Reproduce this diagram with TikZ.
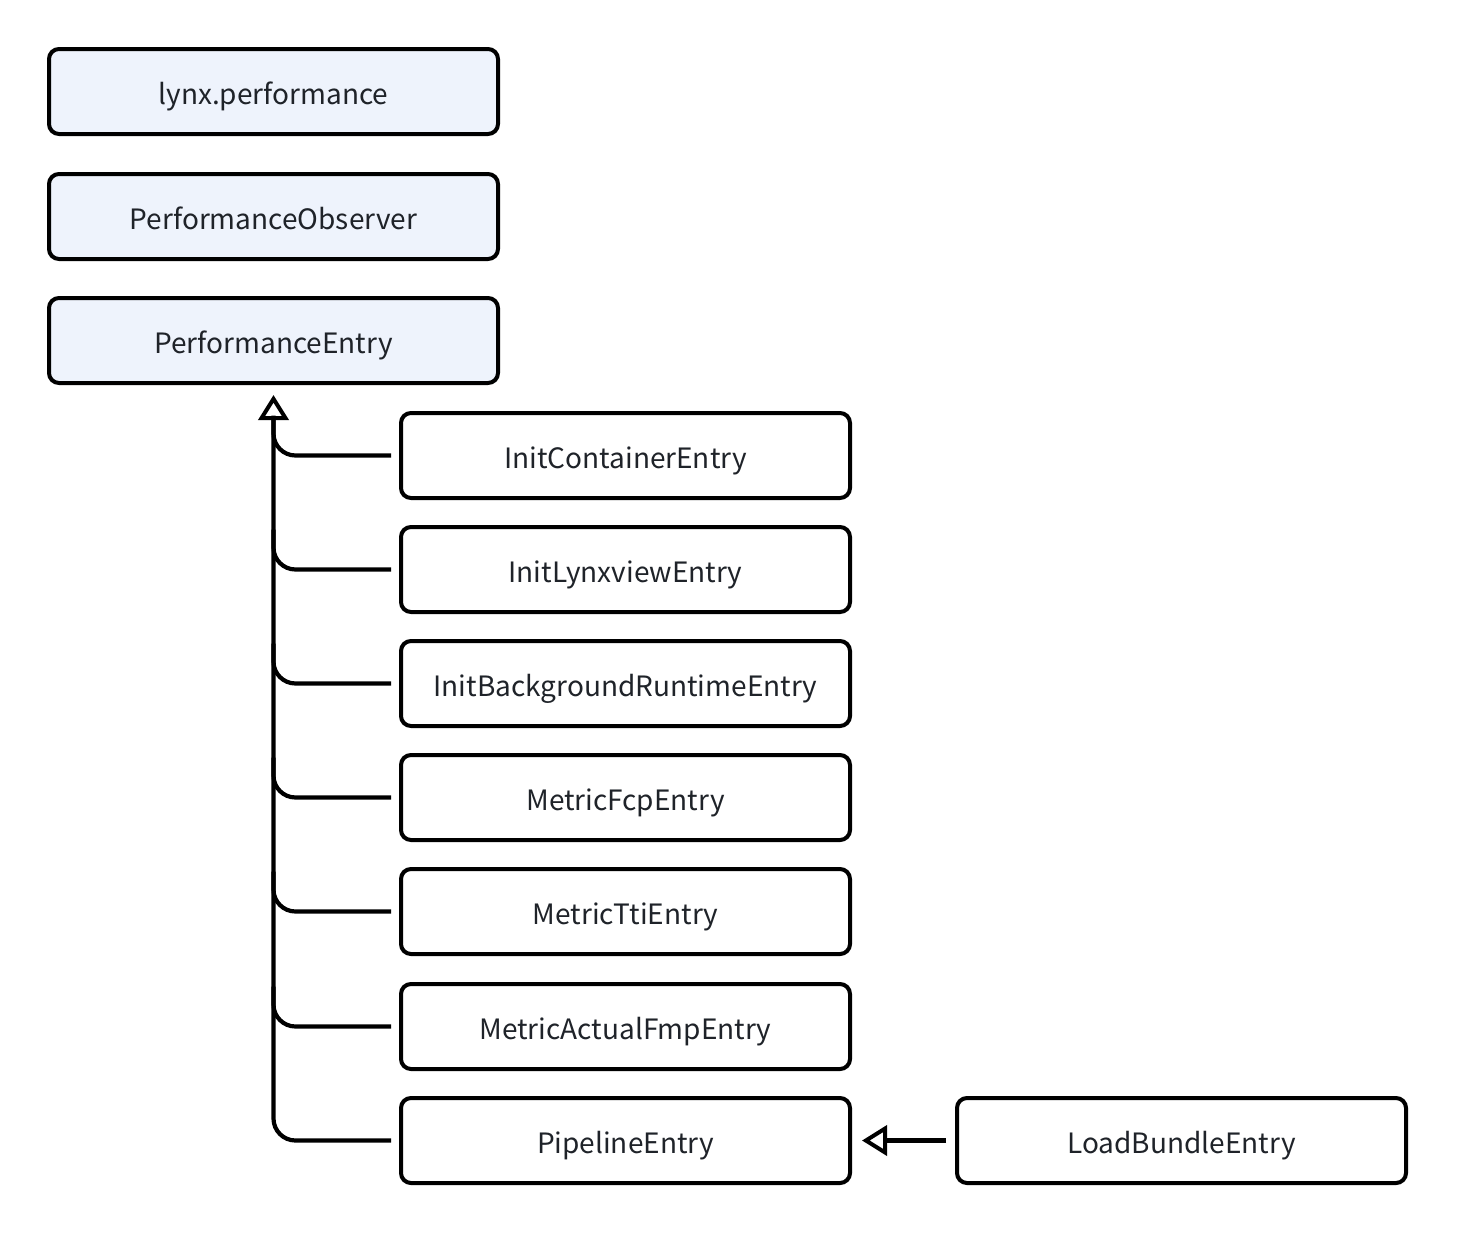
\documentclass[tikz,border=0pt]{standalone}
\usepackage{fontspec}
\setmainfont{Noto Sans CJK SC}
\usetikzlibrary{arrows.meta,calc}
\definecolor{boxfill}{HTML}{EEF3FC}
\definecolor{txt}{HTML}{1F2329}
\tikzset{
  box/.style={draw=black, line width=4pt, rounded corners=10pt, minimum width=449pt, minimum height=85pt, inner sep=0pt, font=\fontsize{28}{32}\selectfont, text=txt, text depth=0pt, text height=26pt},
  topbox/.style={box, fill=boxfill},
  conn/.style={line width=4.2pt, draw=black, rounded corners=22pt},
  opentip/.style={-{Triangle[open, width=30pt, length=25pt, line width=4pt]}},
}
\begin{document}
\begin{tikzpicture}[x=1pt,y=-1pt]
\useasboundingbox (0,0) rectangle (1458,1234);
\node[topbox] (lynx) at (273.5,91.5) {lynx.performance};
\node[topbox] (obs) at (273.5,216.5) {PerformanceObserver};
\node[topbox] (pentry) at (273.5,340.5) {PerformanceEntry};
\node[box] (ice) at (625.5,455.5) {InitContainerEntry};
\node[box] (ile) at (625.5,569.5) {InitLynxviewEntry};
\node[box] (ibr) at (625.5,683.5) {InitBackgroundRuntimeEntry};
\node[box] (mfe) at (625.5,797.5) {MetricFcpEntry};
\node[box] (mte) at (625.5,911.5) {MetricTtiEntry};
\node[box] (mafe) at (625.5,1026.5) {MetricActualFmpEntry};
\node[box] (pipe) at (625.5,1140.5) {PipelineEntry};
\node[box] (lbe) at (1181.5,1140.5) {LoadBundleEntry};
\coordinate (top) at ($(pentry.south)+(0,10)$);
% trunk with arrow
\draw[conn, opentip] ($(pipe.west)+(-8,0)$) -| (top);
% branches
\foreach \n in {ice,ile,ibr,mfe,mte,mafe}{
  \draw[conn] ($(\n.west)+(-8,0)$) -| ($(top |- \n.west)+(0,-40)$);
}
\draw[line width=4.2pt, opentip] ($(lbe.west)+(-9,0)$) -- ($(pipe.east)+(10,0)$);
\end{tikzpicture}
\end{document}
